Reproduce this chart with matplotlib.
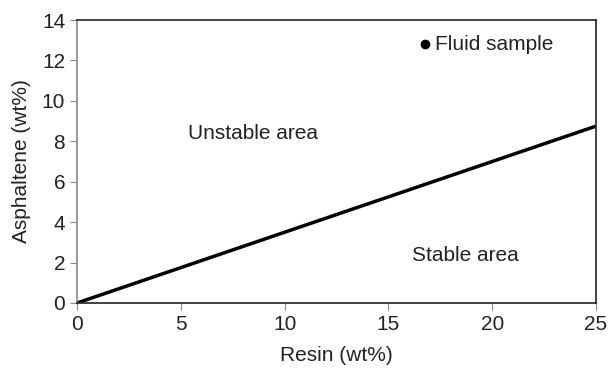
import matplotlib

matplotlib.use("Agg")
import matplotlib.pyplot as plt

# stability boundary (resin vs asphaltene), fluid sample point
boundary_resin = [0, 25]
boundary_asph = [0, 8.75]
sample_resin = [16.75]
sample_asph = [12.8]

x_ticks = [0, 5, 10, 15, 20, 25]
y_ticks = [0, 2, 4, 6, 8, 10, 12, 14]

plt.rcParams["font.family"] = ["Liberation Sans", "DejaVu Sans"]

fig = plt.figure(figsize=(6.09, 3.69), dpi=100)
ax = fig.add_axes([77 / 609, 1 - 303 / 369, 519 / 609, 283 / 369])

ax.plot(boundary_resin, boundary_asph, color="black", linewidth=2.5, solid_capstyle="butt")
ax.plot(sample_resin, sample_asph, "o", color="black", markersize=6)
ax.text(sample_resin[0] + 0.5, sample_asph[0], "Fluid sample", fontsize=15, va="center", ha="left", color="#222222")

ax.text(8.5, 8.4, "Unstable area", fontsize=15, ha="center", va="center", color="#222222")
ax.text(18.7, 2.35, "Stable area", fontsize=15, ha="center", va="center", color="#222222")

ax.set_xlim(0, 25)
ax.set_ylim(0, 14)
ax.set_xticks(x_ticks)
ax.set_yticks(y_ticks)
ax.tick_params(labelsize=15, direction="out", length=5, color="#888888", labelcolor="#222222")
ax.set_xlabel("Resin (wt%)", fontsize=15, color="#222222", labelpad=9)
ax.set_ylabel("Asphaltene (wt%)", fontsize=15, color="#222222", labelpad=8)

ax.spines["left"].set_color("#888888")
for side in ["top", "right", "bottom"]:
    ax.spines[side].set_color("#222222")
for side in ax.spines:
    ax.spines[side].set_linewidth(1.2)

fig.savefig("out.png", dpi=100)
